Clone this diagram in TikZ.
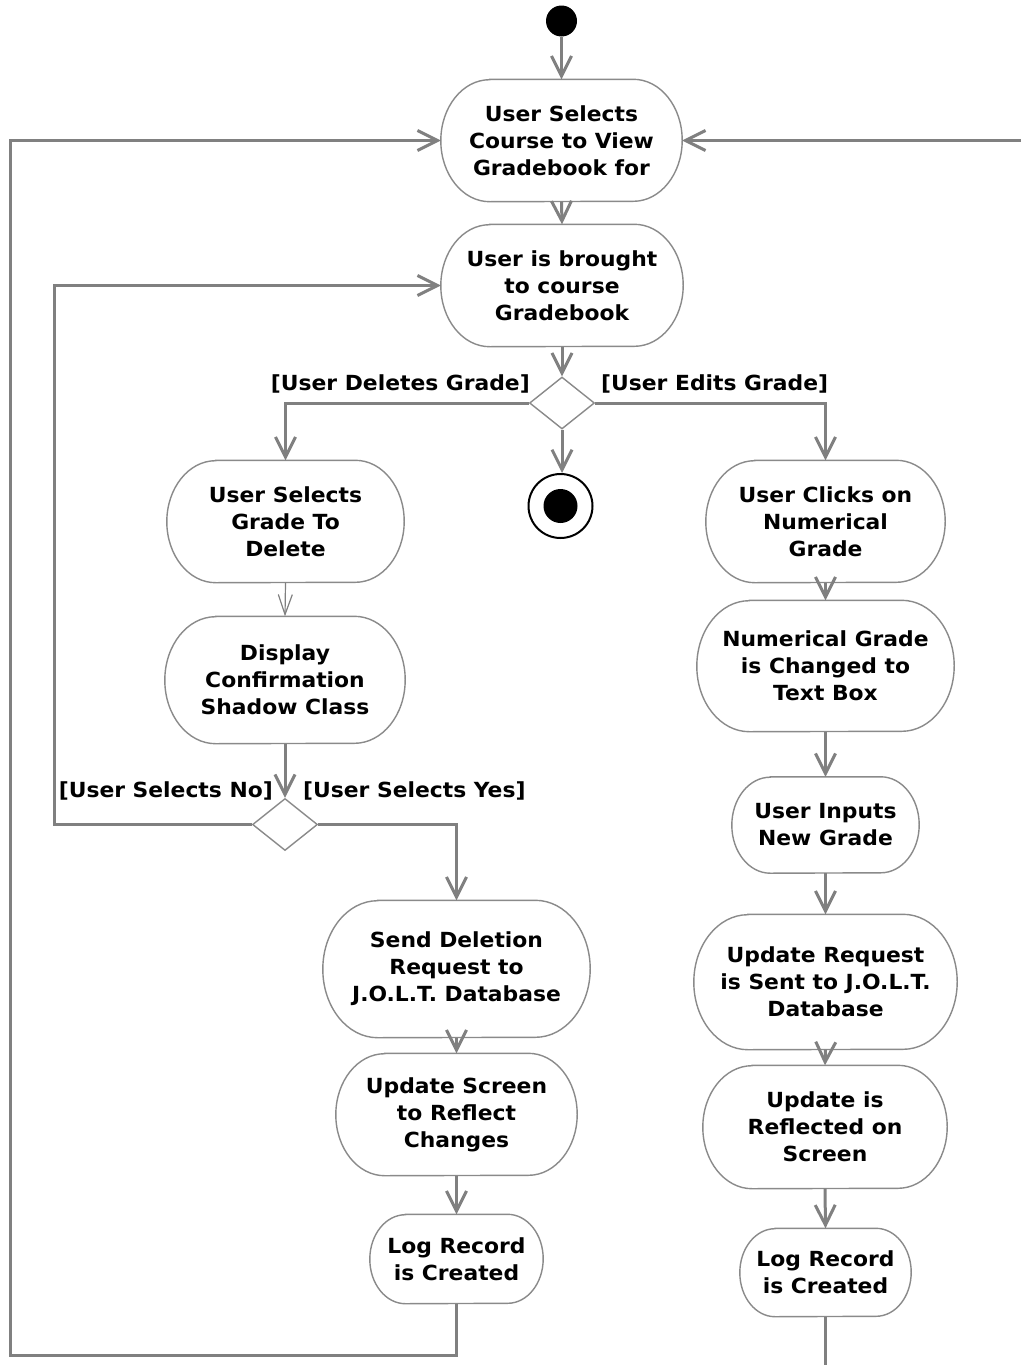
\documentclass[tikz,border=0pt]{standalone}
\usepackage{fontspec}
\setmainfont{DejaVu Sans}[FakeStretch=1.05]
\usetikzlibrary{arrows.meta,shapes.geometric}
\definecolor{linegray}{RGB}{128,128,128}
\definecolor{bordergray}{RGB}{138,138,138}
\tikzset{
 txt/.style={font=\fontsize{20.8}{27}\selectfont\bfseries},
 acttext/.style={txt, align=center, inner sep=0pt, draw=none},
 actline/.style={draw=bordergray, line width=1.4pt},
 flow/.style={draw=linegray, line width=3pt, -{Straight Barb[length=20pt,width=20pt]}},
 thinflow/.style={draw=linegray, line width=1.2pt, -{Straight Barb[length=20pt,width=14pt]}},
 plainflow/.style={draw=linegray, line width=3pt},
 decision/.style={diamond, draw=bordergray, line width=1.4pt, minimum width=65pt, minimum height=52pt, inner sep=0pt},
 guard/.style={txt, inner sep=0pt},
}
\newcommand\actnode[6]{%
 \node[acttext, minimum width=#4pt, minimum height=#5pt] (#1) at (#2,#3) {#6};
 \pgfmathsetmacro\actry{#5/2}%
 \pgfmathsetmacro\actrx{0.8*#5/2}%
 \draw[actline] ([xshift=\actrx pt]#1.north west) -- ([xshift=-\actrx pt]#1.north east)
   arc[start angle=90,end angle=-90,x radius=\actrx pt,y radius=\actry pt]
   -- ([xshift=\actrx pt]#1.south west)
   arc[start angle=270,end angle=90,x radius=\actrx pt,y radius=\actry pt] -- cycle;
}
\begin{document}
\begin{tikzpicture}[x=1pt,y=-1pt]
\fill[white] (0,0) rectangle (1021,1365);
\useasboundingbox (0,0) rectangle (1021,1365);

\node[circle, fill=black, minimum size=31pt, inner sep=0pt] (init) at (561.5,21) {};

\actnode{a1}{561.5}{140.5}{241}{122}{User Selects\\Course to View\\Gradebook for}
\actnode{a2}{562}{285.5}{242}{122}{User is brought\\to course\\Gradebook}
\node[decision] (d1) at (562,403) {};
\node[circle, draw=black, line width=2pt, minimum size=64pt, inner sep=0pt] (fin) at (560.5,506) {};
\fill[black] (fin.center) circle[radius=17pt];

\actnode{a3}{285.5}{521.5}{237}{122}{User Selects\\Grade To\\Delete}
\actnode{a4}{285}{680}{240}{127}{Display\\Confirmation\\Shadow Class}
\node[decision] (d2) at (285,824.5) {};
\actnode{a5}{456.5}{969}{267}{137}{Send Deletion\\Request to\\J.O.L.T. Database}
\actnode{a6}{456.5}{1114.5}{241}{122}{Update Screen\\to Reflect\\Changes}
\actnode{a7}{456.5}{1259}{173}{89}{Log Record\\is Created}

\actnode{b1}{825.5}{521.5}{239}{122}{User Clicks on\\Numerical\\Grade}
\actnode{b2}{825.5}{666}{257}{131}{Numerical Grade\\is Changed to\\Text Box}
\actnode{b3}{825.5}{825}{187}{96}{User Inputs\\New Grade}
\actnode{b4}{825.5}{982}{263}{135}{Update Request\\is Sent to J.O.L.T.\\Database}
\actnode{b5}{825}{1127}{244}{123}{Update is\\Reflected on\\Screen}
\actnode{b6}{825.5}{1272.5}{171}{88}{Log Record\\is Created}

% guards
\node[guard, anchor=base east] (gdel) at (530,390) {[User Deletes Grade]};
\node[guard, anchor=base west] (gedit) at (601,390) {[User Edits Grade]};
\node[guard, anchor=base east] (gno) at (273,797) {[User Selects No]};
\node[guard, anchor=base west] (gyes) at (303,797) {[User Selects Yes]};

% loop coordinates
\coordinate (noA) at (54,824.5);
\coordinate (noB) at (54,285.5);
\coordinate (backA) at (456.5,1355);
\coordinate (backB) at (10,1355);
\coordinate (backC) at (10,140.5);
\coordinate (rightIn) at (1021,140.5);
\coordinate (rightOut) at (825.5,1365);
\coordinate (delTurn) at (285.5,403);
\coordinate (editTurn) at (825.5,403);
\coordinate (yesTurn) at (456.5,824.5);

% connectors
\draw[flow] (init) -- (a1.north);
\draw[flow] (a1.south) -- (a2.north);
\draw[flow] (a2.south) -- (d1.north);
\draw[flow] (d1.south) -- (d1.south |- fin.north);
\draw[flow] (d1.west) -- (delTurn) -- (a3.north);
\draw[flow] (d1.east) -- (editTurn) -- (b1.north);
\draw[thinflow] (a3.south) -- (a4.north);
\draw[flow] (a4.south) -- (d2.north);
\draw[flow] (d2.west) -- (noA) -- (noB) -- (a2.west);
\draw[flow] (d2.east) -- (yesTurn) -- (a5.north);
\draw[flow] (a5.south) -- (a6.north);
\draw[flow] (a6.south) -- (a7.north);
\draw[flow] (a7.south) -- (backA) -- (backB) -- (backC) -- (a1.west);
\draw[flow] (b1.south) -- (b2.north);
\draw[flow] (b2.south) -- (b3.north);
\draw[flow] (b3.south) -- (b4.north);
\draw[flow] (b4.south) -- (b5.north);
\draw[flow] (b5.south) -- (b6.north);
\draw[plainflow] (b6.south) -- (rightOut);
\draw[flow] (rightIn) -- (a1.east);
\end{tikzpicture}
\end{document}
